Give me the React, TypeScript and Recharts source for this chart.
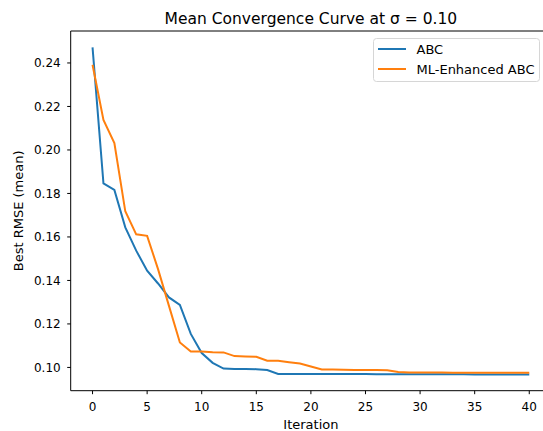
import React from 'react';
import {
  LineChart,
  Line,
  XAxis,
  YAxis,
  Legend,
  ReferenceLine,
} from 'recharts';

const iterations = [
  0, 1, 2, 3, 4, 5, 6, 7, 8, 9, 10, 11, 12, 13, 14, 15, 16, 17, 18, 19, 20,
  21, 22, 23, 24, 25, 26, 27, 28, 29, 30, 31, 32, 33, 34, 35, 36, 37, 38, 39, 40,
];

const abcRmse = [
  0.2472, 0.1846, 0.1816, 0.1644, 0.1537, 0.1445, 0.1386, 0.1322, 0.1287, 0.1154,
  0.1066, 0.1021, 0.0995, 0.0993, 0.0993, 0.0992, 0.0988, 0.0970, 0.0970, 0.0970,
  0.0970, 0.0970, 0.0970, 0.0970, 0.0970, 0.0970, 0.0969, 0.0969, 0.0969, 0.0969,
  0.0969, 0.0969, 0.0969, 0.0969, 0.0969, 0.0968, 0.0968, 0.0968, 0.0968, 0.0968,
  0.0968,
];

const mlAbcRmse = [
  0.2392, 0.2138, 0.2032, 0.1718, 0.1612, 0.1605, 0.1452, 0.1283, 0.1115, 0.1073,
  0.1073, 0.1070, 0.1069, 0.1052, 0.1050, 0.1049, 0.1031, 0.1031, 0.1024, 0.1018,
  0.1004, 0.0991, 0.0991, 0.0989, 0.0988, 0.0988, 0.0988, 0.0987, 0.0979, 0.0977,
  0.0977, 0.0977, 0.0977, 0.0975, 0.0975, 0.0975, 0.0975, 0.0975, 0.0975, 0.0975,
  0.0975,
];

const xTicks = [0, 5, 10, 15, 20, 25, 30, 35, 40];
const yTicks = [0.1, 0.12, 0.14, 0.16, 0.18, 0.2, 0.22, 0.24];

const seriesNames = ['ABC', 'ML-Enhanced ABC'];
const seriesColors = ['#1f77b4', '#ff7f0e'];

const yDomain = [0.0893, 0.2547];

const data = iterations.map((it, i) => ({
  iteration: it,
  abc: abcRmse[i],
  ml: mlAbcRmse[i],
}));

const font = 'DejaVu Sans, sans-serif';
const tickStyle = { fontSize: 12, fill: '#000', fontFamily: font };

const LegendBox = () => (
  <svg width={168} height={45} style={{ display: 'block' }}>
    <rect x={0.5} y={0.5} width={166} height={43} rx={3} fill="#fff" fillOpacity={0.8} stroke="#d6d6d6" />
    {seriesNames.map((name, i) => (
      <g key={name}>
        <line x1={5} x2={33} y1={11 + i * 20} y2={11 + i * 20} stroke={seriesColors[i]} strokeWidth={2} />
        <text x={43.5} y={15.5 + i * 20} fontSize={13} fontFamily={font} fill="#000">
          {name}
        </text>
      </g>
    ))}
  </svg>
);

export default function App() {
  return (
    <div style={{ position: 'absolute', left: 0, top: 0, width: 543, height: 431, overflow: 'hidden', background: '#fff' }}>
      <LineChart width={560} height={431} data={data} margin={{ top: 31, right: 8.9, bottom: 0, left: 0 }}>
        <XAxis
          dataKey="iteration"
          type="number"
          domain={[-2, 42]}
          ticks={xTicks}
          allowDataOverflow
          height={40.3}
          tick={tickStyle}
          tickSize={3.5}
          tickMargin={8}
          axisLine={{ stroke: '#000', strokeWidth: 1 }}
          tickLine={{ stroke: '#000', strokeWidth: 1 }}
          label={{ value: 'Iteration', position: 'insideBottom', offset: 2.5, fontSize: 13, fontFamily: font, fill: '#000' }}
        />
        <YAxis
          type="number"
          domain={yDomain}
          ticks={yTicks}
          allowDataOverflow
          width={70.7}
          tick={tickStyle}
          tickFormatter={(v: number) => v.toFixed(2)}
          tickSize={3.5}
          tickMargin={6.5}
          axisLine={{ stroke: '#000', strokeWidth: 1 }}
          tickLine={{ stroke: '#000', strokeWidth: 1 }}
          label={{
            value: 'Best RMSE (mean)',
            angle: -90,
            position: 'insideLeft',
            offset: 18.3,
            fontSize: 13,
            fontFamily: font,
            fill: '#000',
            style: { textAnchor: 'middle' },
          }}
        />
        {/* top spine */}
        <ReferenceLine y={yDomain[1]} stroke="#000" strokeWidth={1} ifOverflow="visible" />
        <ReferenceLine x={42} stroke="#000" strokeWidth={1} ifOverflow="visible" />
        <Legend
          layout="vertical"
          align="center"
          verticalAlign="middle"
          content={() => <LegendBox />}
          wrapperStyle={{ top: 38, left: 373, width: 168, height: 45 }}
        />
        <Line
          type="linear"
          dataKey="abc"
          name={seriesNames[0]}
          stroke={seriesColors[0]}
          strokeWidth={2}
          dot={false}
          isAnimationActive={false}
        />
        <Line
          type="linear"
          dataKey="ml"
          name={seriesNames[1]}
          stroke={seriesColors[1]}
          strokeWidth={2}
          dot={false}
          isAnimationActive={false}
        />
      </LineChart>
      <svg width={543} height={31} style={{ position: 'absolute', left: 0, top: 0 }}>
        <text x={310.9} y={24} textAnchor="middle" fontSize={15.5} fontFamily={font} fill="#000">
          Mean Convergence Curve at σ = 0.10
        </text>
      </svg>
    </div>
  );
}
